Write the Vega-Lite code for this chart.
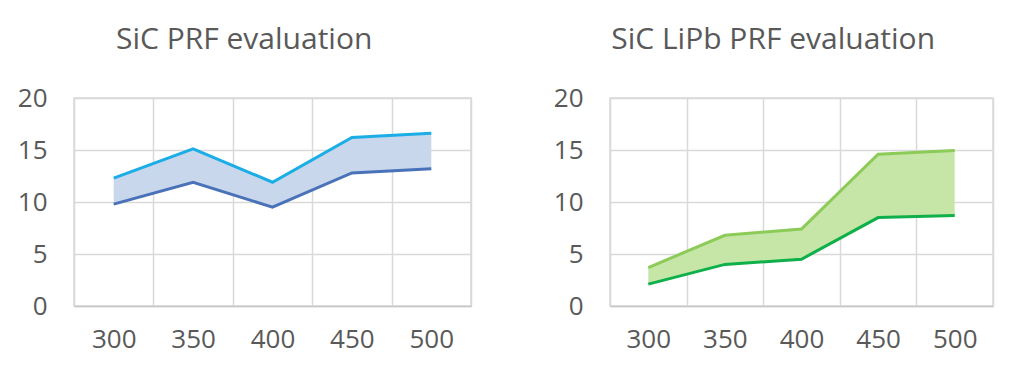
{
  "$schema": "https://vega.github.io/schema/vega-lite/v6.json",
  "background": "white",
  "padding": {"left": 16, "top": 24, "right": 10, "bottom": 10},
  "datasets": {
    "sic": [
      {"temp": "300", "low": 9.8, "high": 12.3},
      {"temp": "350", "low": 11.9, "high": 15.1},
      {"temp": "400", "low": 9.5, "high": 11.9},
      {"temp": "450", "low": 12.8, "high": 16.2},
      {"temp": "500", "low": 13.2, "high": 16.6}
    ],
    "lipb": [
      {"temp": "300", "low": 2.1, "high": 3.7},
      {"temp": "350", "low": 4.0, "high": 6.8},
      {"temp": "400", "low": 4.5, "high": 7.4},
      {"temp": "450", "low": 8.5, "high": 14.6},
      {"temp": "500", "low": 8.7, "high": 14.95}
    ]
  },
  "spacing": 80,
  "hconcat": [
    {
      "width": 397,
      "height": 208,
      "title": {"text": "SiC PRF evaluation"},
      "data": {"name": "sic"},
      "encoding": {
        "x": {"field": "temp", "type": "ordinal", "bandPosition": 0.5,
              "scale": {"type": "band", "paddingInner": 0, "paddingOuter": 0}},
        "y": {"type": "quantitative", "scale": {"domain": [0, 20]}}
      },
      "layer": [
        {"mark": {"type": "area", "color": "#C8D7EC", "opacity": 1},
         "encoding": {"y": {"field": "low", "type": "quantitative"}, "y2": {"field": "high"}}},
        {"mark": {"type": "line", "color": "#1BAEE6", "strokeWidth": 3},
         "encoding": {"y": {"field": "high", "type": "quantitative"}}},
        {"mark": {"type": "line", "color": "#4A72B8", "strokeWidth": 3},
         "encoding": {"y": {"field": "low", "type": "quantitative"}}}
      ]
    },
    {
      "width": 383,
      "height": 208,
      "title": {"text": "SiC LiPb PRF evaluation"},
      "data": {"name": "lipb"},
      "encoding": {
        "x": {"field": "temp", "type": "ordinal", "bandPosition": 0.5,
              "scale": {"type": "band", "paddingInner": 0, "paddingOuter": 0}},
        "y": {"type": "quantitative", "scale": {"domain": [0, 20]}}
      },
      "layer": [
        {"mark": {"type": "area", "color": "#C6E6A8", "opacity": 1},
         "encoding": {"y": {"field": "low", "type": "quantitative"}, "y2": {"field": "high"}}},
        {"mark": {"type": "line", "color": "#8CCB57", "strokeWidth": 3},
         "encoding": {"y": {"field": "high", "type": "quantitative"}}},
        {"mark": {"type": "line", "color": "#0FAF4A", "strokeWidth": 3},
         "encoding": {"y": {"field": "low", "type": "quantitative"}}}
      ]
    }
  ],
  "config": {
    "font": "Open Sans",
    "view": {"stroke": "#D9D9D9", "strokeWidth": 1.5},
    "title": {"fontSize": 30, "fontWeight": "normal", "color": "#595959", "anchor": "middle", "frame": "bounds", "baseline": "alphabetic", "offset": 30},
    "axis": {"title": null, "grid": true, "gridColor": "#D9D9D9", "gridWidth": 1.5, "ticks": false, "domain": false,
             "labelFontSize": 26, "labelColor": "#595959", "labelFont": "Open Sans"},
    "axisX": {"tickBand": "extent", "labelAngle": 0, "labelPadding": 20, "domain": true, "domainColor": "#C8C8C8", "domainWidth": 1.5},
    "axisY": {"values": [0, 5, 10, 15, 20], "labelPadding": 27, "tickCount": 5}
  }
}
